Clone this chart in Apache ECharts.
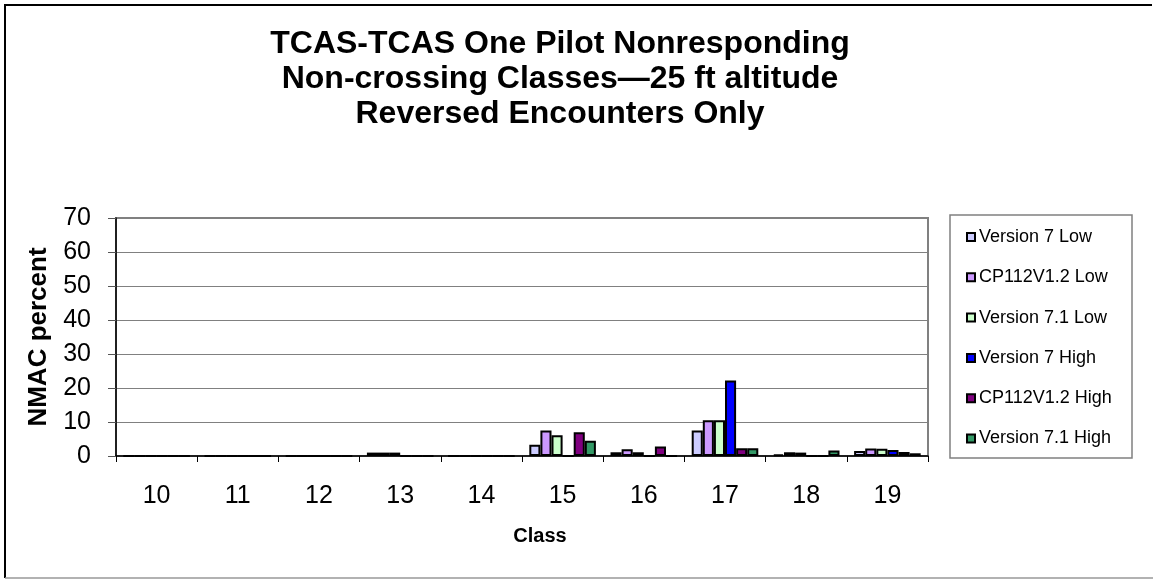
<!DOCTYPE html>
<html>
<head>
<meta charset="utf-8">
<script src="https://cdn.jsdelivr.net/npm/echarts@6/dist/echarts.min.js"></script>
<style>
  html, body { margin: 0; padding: 0; background: #fff; }
  #main { width: 1153px; height: 579px; }
</style>
</head>
<body>
<div id="main"></div>
<script>
// classes on the x axis
var classes = ['10', '11', '12', '13', '14', '15', '16', '17', '18', '19'];
var seriesNames = ['Version 7 Low', 'CP112V1.2 Low', 'Version 7.1 Low',
                   'Version 7 High', 'CP112V1.2 High', 'Version 7.1 High'];
// NMAC percent
var v7Low   = [0, 0, 0, 1.0, 0, 3.3, 1.1, 7.5, 0.5, 1.5];
var cpLow   = [0, 0, 0, 1.0, 0, 7.5, 2.0, 10.5, 1.1, 2.2];
var v71Low  = [0, 0, 0, 1.0, 0, 6.1, 1.1, 10.5, 1.0, 2.1];
var v7High  = [0, 0, 0, 0, 0, 0, 0, 22.2, 0, 1.8];
var cpHigh  = [0, 0, 0, 0, 0, 7.0, 2.8, 2.3, 0, 1.2];
var v71High = [0, 0, 0, 0, 0, 4.5, 0, 2.3, 1.6, 0.8];
var colors = ['#CCCCFF', '#CC99FF', '#CCFFCC', '#0000FF', '#800080', '#339966'];

var allData = [v7Low, cpLow, v71Low, v7High, cpHigh, v71High];
var font = '"Liberation Sans", Arial, sans-serif';

var chart = echarts.init(document.getElementById('main'));

var series = allData.map(function (d, i) {
  return {
    name: seriesNames[i],
    type: 'bar',
    data: d,
    barGap: 0,
    barCategoryGap: '18%',
    itemStyle: { color: colors[i], borderColor: '#000', borderWidth: 2 }
  };
});

chart.setOption({
  animation: false,
  textStyle: { fontFamily: font },
  title: {
    text: 'TCAS-TCAS One Pilot Nonresponding\nNon-crossing Classes\u201425 ft altitude\nReversed Encounters Only',
    left: 555,
    top: 22,
    textAlign: 'center',
    textStyle: { fontFamily: font, fontSize: 32, fontWeight: 'bold', color: '#000', lineHeight: 35 }
  },
  legend: {
    orient: 'vertical',
    left: 961,
    top: 222,
    icon: 'rect',
    itemWidth: 8,
    itemHeight: 8,
    itemGap: 20.3,
    data: seriesNames,
    textStyle: { fontFamily: font, fontSize: 18, color: '#000', lineHeight: 20, padding: [0, 0, 0, -1] }
  },
  grid: {
    left: 116, right: 225, top: 218, bottom: 123,
    show: true, borderColor: '#808080', borderWidth: 2
  },
  xAxis: {
    type: 'category',
    data: classes,
    name: 'Class',
    nameLocation: 'middle',
    nameGap: 70,
    nameTextStyle: { fontFamily: font, fontSize: 20, fontWeight: 'bold', color: '#000', padding: [0, 0, 0, 36] },
    axisLine: { lineStyle: { color: '#000', width: 1.5 } },
    axisTick: { show: true, length: 6, lineStyle: { color: '#000' } },
    axisLabel: { fontFamily: font, fontSize: 25, color: '#000', margin: 28 }
  },
  yAxis: {
    type: 'value',
    min: 0, max: 70, interval: 10,
    name: 'NMAC percent',
    nameLocation: 'middle',
    nameRotate: 90,
    nameGap: 64,
    nameTextStyle: { fontFamily: font, fontSize: 26, fontWeight: 'bold', color: '#000' },
    axisLine: { show: true, lineStyle: { color: '#000', width: 1.5 } },
    axisTick: { show: true, length: 8, lineStyle: { color: '#555' } },
    axisLabel: { fontFamily: font, fontSize: 25, color: '#000', margin: 25 },
    splitLine: { lineStyle: { color: '#808080', width: 1 } }
  },
  graphic: [
    { type: 'rect', shape: { x: 950, y: 215, width: 182, height: 243 },
      style: { fill: 'none', stroke: '#808080', lineWidth: 1.5 }, z: 0 },
    { type: 'polyline', shape: { points: [[5, 578], [5, 5], [1152, 5]] },
      style: { fill: 'none', stroke: '#000', lineWidth: 2 } },
    { type: 'line', shape: { x1: 5, y1: 578, x2: 1153, y2: 578 },
      style: { stroke: '#999', lineWidth: 1.5 } }
  ],
  series: series
});
</script>
</body>
</html>
